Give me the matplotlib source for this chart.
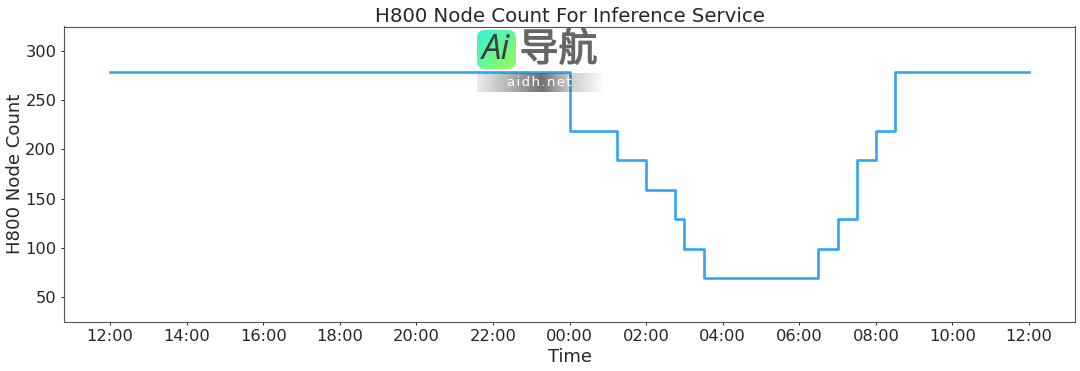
import numpy as np
import matplotlib
matplotlib.use('Agg')
import matplotlib.pyplot as plt
import matplotlib.patheffects as pe
from matplotlib.patches import FancyBboxPatch

W, H = 1080, 371

# hours since 12:00 of the first day, value holds until the next entry
hours = [0, 12, 13.25, 14, 14.75, 15, 15.5, 18.5, 19, 19.5, 20, 20.5, 24]
counts = [279, 219, 189, 159, 129, 99, 69, 99, 129, 189, 219, 279, 279]

tick_hours = list(range(0, 25, 2))
tick_labels = ['12:00', '14:00', '16:00', '18:00', '20:00', '22:00', '00:00',
               '02:00', '04:00', '06:00', '08:00', '10:00', '12:00']
y_ticks = [50, 100, 150, 200, 250, 300]

txt = '#262626'
plt.rcParams['font.family'] = ['DejaVu Sans']

fig = plt.figure(figsize=(W/100, H/100), dpi=100)
ax = fig.add_axes([64/W, 1-321.5/H, (1075-64)/W, (321.5-26.5)/H])

ax.step(hours, counts, where='post', color='#2ea6f2', lw=1.9)
ax.set_xlim(-1.2, 25.2)
ax.set_ylim(25, 325)
ax.set_xticks(tick_hours)
ax.set_xticklabels(tick_labels)
ax.set_yticks(y_ticks)
ax.tick_params(axis='both', labelsize=11.7, colors=txt, length=2.5, width=0.7, pad=3)
for s in ax.spines.values():
    s.set_color('#555555')
    s.set_linewidth(0.8)

ax.set_title('H800 Node Count For Inference Service', fontsize=14.25, color=txt, pad=3)
ax.set_xlabel('Time', fontsize=12.9, color=txt, labelpad=2.5)
ax.set_ylabel('H800 Node Count', fontsize=13.1, color=txt, labelpad=1)

#---- watermark sitting on top of the chart
ov = fig.add_axes([0, 0, 1, 1], zorder=5)
ov.axis('off')
ov.patch.set_alpha(0)

# grey band behind the url
xx = np.linspace(0, 1, 256)
alpha = np.interp(xx, [0, 0.25, 0.52, 0.75, 1], [0.12, 0.45, 0.85, 0.3, 0.03])
band = np.zeros((1, 256, 4))
band[..., :3] = 0.35
band[..., 3] = alpha
ov.imshow(band, extent=(477, 602, 92, 73), aspect='auto', zorder=1)
ov.text(539.5, 83, '\u200a'.join('aidh.net'), color='white', fontsize=9.5,
        ha='center', va='center', zorder=2)

# logo square, teal to green diagonal
gx, gy = np.meshgrid(np.linspace(0, 1, 64), np.linspace(0, 1, 64))
t = (gx + gy)[..., None] / 2
grad = (1-t)*np.array([0.2, 0.95, 0.85]) + t*np.array([0.6, 0.98, 0.35])
im = ov.imshow(grad, extent=(477, 516, 69, 30), aspect='auto', zorder=1)
box = FancyBboxPatch((483, 36), 27, 27, boxstyle='round,pad=6,rounding_size=8',
                     fc='none', ec='none', transform=ov.transData)
ov.add_patch(box)
im.set_clip_path(box)
ov.text(496.5, 50, 'Ai', color='#3c3c3c', fontsize=25, style='italic', family='Open Sans',
        ha='center', va='center', zorder=2)
ov.text(558.5, 50, '导航', color='#666666', fontsize=28, weight='medium',
        family='Noto Sans CJK SC', ha='center', va='center', zorder=2,
        path_effects=[pe.withStroke(linewidth=0.9, foreground='#666666')])
ov.set_xlim(0, W)
ov.set_ylim(H, 0)

plt.savefig('out.png', dpi=100)
